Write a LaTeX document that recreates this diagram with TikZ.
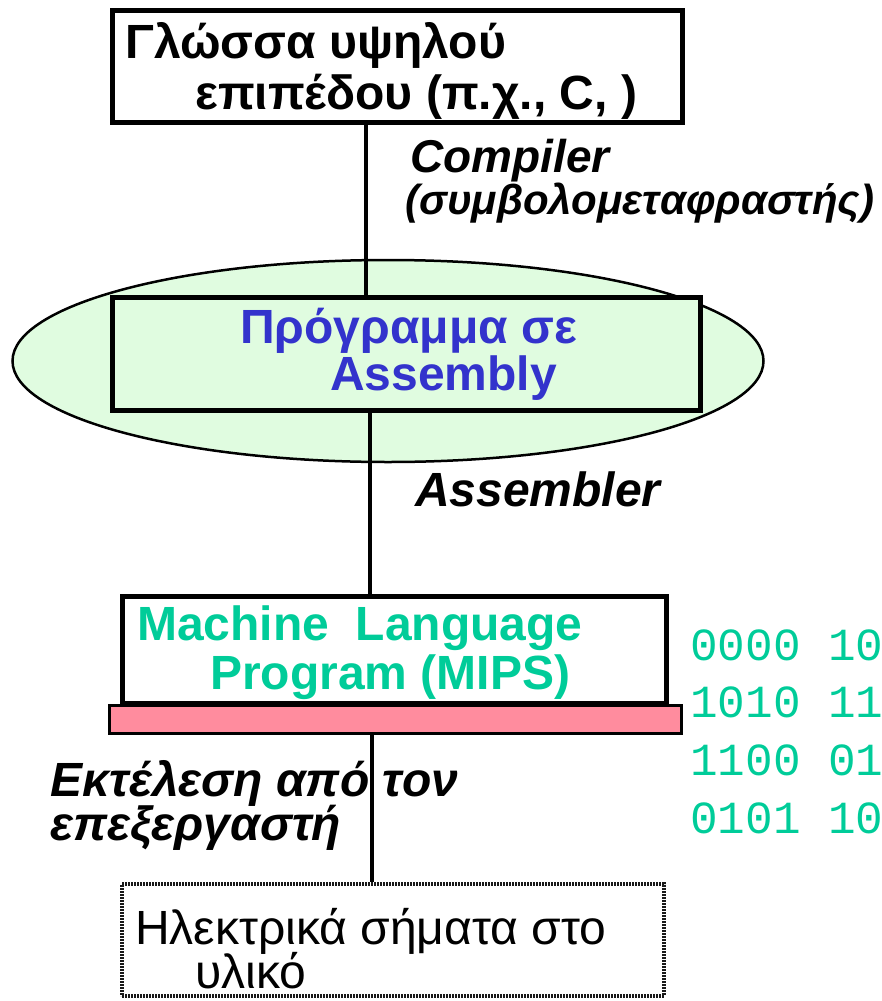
\documentclass[tikz,border=0pt]{standalone}
\usepackage{fontspec}
\setmainfont{Liberation Sans}
\setmonofont{Liberation Mono}
\usetikzlibrary{shapes.geometric}
\definecolor{asmblue}{HTML}{3333CC}
\definecolor{mlgreen}{HTML}{00CC99}
\definecolor{ellfill}{HTML}{E0FCE0}
\definecolor{barpink}{HTML}{FF8C9E}
\begin{document}
\begin{tikzpicture}[x=1pt,y=-1pt,
    box/.style={draw,line width=5pt,rectangle,inner sep=0pt},
    link/.style={line width=4pt},
    title/.style={anchor=base west,inner sep=0pt,font=\fontsize{48}{52}\selectfont\bfseries},
    tool/.style={anchor=base west,inner sep=0pt,font=\fontsize{48}{52}\selectfont\bfseries\itshape},
    bits/.style={anchor=base west,inner sep=0pt,text=mlgreen,font=\fontsize{46}{50}\selectfont\ttfamily}]
    \useasboundingbox (0,0) rectangle (881,1001);
    \node[ellipse,draw,line width=2.5pt,fill=ellfill,minimum width=751,minimum height=202,inner sep=0pt] (ell) at (388,361) {};
    \node[box,minimum width=570,minimum height=112] (hll) at (397.5,66.5) {};
    \node[box,fill=ellfill,minimum width=588,minimum height=113] (asm) at (406.5,354) {};
    \node[box,minimum width=544,minimum height=107] (mlp) at (394.5,650) {};
    \node[draw,line width=2.5pt,fill=barpink,minimum width=572,minimum height=28,inner sep=0pt] (bar) at (395.5,719.5) {};
    \node[draw,black!90,line width=4pt,dash pattern=on 2pt off 1pt,minimum width=542,minimum height=112,inner sep=0pt] (sig) at (393,940) {};
    \coordinate (c1) at (366,0);
    \coordinate (c2) at (370,0);
    \coordinate (c3) at (372,0);
    \draw[link] (hll.south -| c1) -- (asm.north -| c1);
    \draw[link] (asm.south -| c2) -- (mlp.north -| c2);
    \draw[link] (bar.south -| c3) -- (sig.north -| c3);
    \node[title] (hllA) at (125,58) {Γλώσσα υψηλού};
    \node[title] (hllB) at (195,109) {επιπέδου (π.χ., C, )};
    \node[tool,font=\fontsize{46}{50}\selectfont\bfseries\itshape] (cmpA) at (410,172) {Compiler};
    \node[tool,font=\fontsize{42}{50}\selectfont\bfseries\itshape] (cmpB) at (405,214) {(συμβολομεταφραστής)};
    \node[title,text=asmblue] (asmA) at (240,343) {Πρόγραμμα σε};
    \node[title,text=asmblue] (asmB) at (330,390) {Assembly};
    \node[tool] (asmr) at (415,506) {Assembler};
    \node[title,text=mlgreen] (mlpA) at (137,640) {Machine\ \ Language};
    \node[title,text=mlgreen] (mlpB) at (210,689) {Program (MIPS)};
    \node[tool] (exeA) at (50,796) {Εκτέλεση από τον};
    \node[tool] (exeB) at (50,840) {επεξεργαστή};
    \node[bits] (b1) at (690,660) {0000 10};
    \node[bits] (b2) at (690,717) {1010 11};
    \node[bits] (b3) at (690,775) {1100 01};
    \node[bits] (b4) at (690,833) {0101 10};
    \node[title,font=\fontsize{48}{52}\selectfont] (sigA) at (135,944) {Ηλεκτρικά σήματα στο};
    \node[title,font=\fontsize{48}{52}\selectfont] (sigB) at (195,988) {υλικό};
\end{tikzpicture}
\end{document}
